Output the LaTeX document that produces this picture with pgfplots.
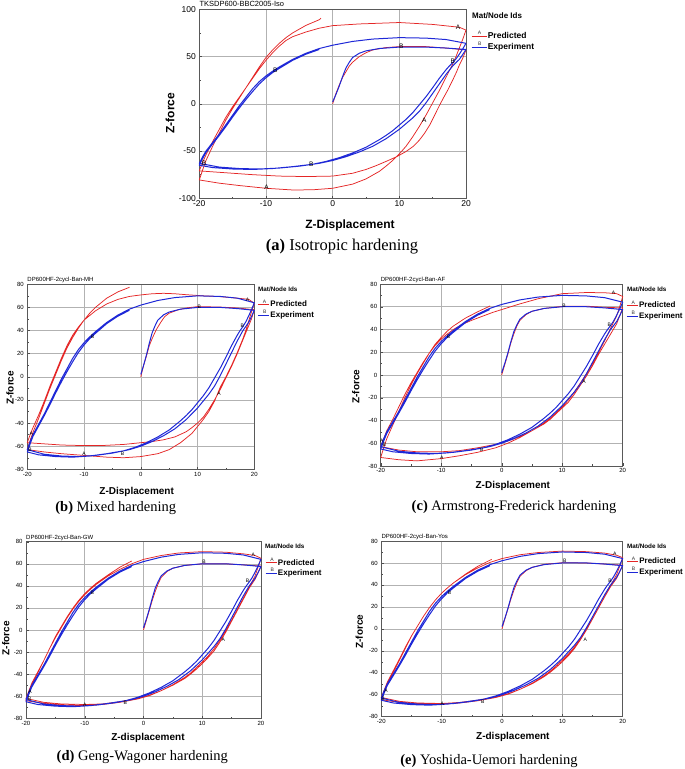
\documentclass[border=0pt]{standalone}
\usepackage{pgfplots}
\pgfplotsset{compat=1.18}
\usepackage{pgfplotstable}
\usepackage{fontspec}
\setmainfont{Liberation Serif}
\setsansfont{Liberation Sans}
\definecolor{predred}{RGB}{228,38,38}
\definecolor{expblue}{RGB}{30,40,215}

% Experiment (same test in all panels)
\pgfplotstableread[row sep=\\]{
x y\\
0 2\\ 0.5 10\\ 1 19\\ 1.5 29\\ 2 38\\ 2.5 44\\ 3 49\\ 4 53.5\\ 5 56\\ 7 58.5\\ 10 60\\ 14 60\\ 17 59\\ 20 57.5\\
19.5 52\\ 19 47\\ 18 40\\ 17 31\\ 16 21\\ 15 11\\ 14 1\\ 13 -8\\ 12 -15\\ 11 -21\\ 10 -27\\ 9 -32\\ 8 -37\\ 7 -41\\ 6 -45\\ 4 -51\\ 2 -56\\ 0 -60\\ -2 -63\\ -5 -66\\ -8 -68\\ -11 -69\\ -14 -68.5\\ -17 -67\\ -20 -63\\
-19.5 -56\\ -19 -50\\ -18 -41\\ -17 -32\\ -16 -22\\ -15 -12\\ -14 -2\\ -13 7\\ -12 16\\ -11 23.5\\ -10 29.5\\ -9 34.5\\ -8 39\\ -6 47\\ -4 53.5\\ -2 58.5\\ 0 62\\ 3 66\\ 6 68.5\\ 10 70\\ 14 69.5\\ 17 68\\ 20 64\\
19.5 58\\ 19 52.5\\ 18.5 47.5\\ 18 43.5\\ 17.5 40\\ 17 36\\ 16 27\\ 15 17\\ 14 7.5\\ 13 -1\\ 12 -9.5\\ 11 -16.5\\ 10 -22.5\\ 9 -28.5\\ 8 -33.5\\ 7 -38\\ 6 -42\\ 5 -46\\ 3 -52\\ 1 -57\\ -1 -61\\ -3 -64\\ -6 -66.5\\ -9 -68.5\\ -12 -69.5\\ -15 -69\\ -18 -67.5\\ -20 -65\\
-19.5 -58\\ -19 -51.5\\ -18 -42.5\\ -17 -33.5\\ -16 -24\\ -15 -14\\ -14 -4.5\\ -13 4.5\\ -12 13\\ -11 21\\ -10 27.5\\ -9 33\\ -8 37.5\\ -6 46\\ -4 52.5\\ -2 57.5\\
}\expdata

% (a) Isotropic
\pgfplotstableread[row sep=\\]{
x y\\
0 0\\ 0.5 11\\ 1 20\\ 1.5 28\\ 2 34\\ 2.5 40\\ 3 44\\ 4 50\\ 5 54\\ 6 57\\ 8 59.5\\ 10 60.5\\ 14 60.5\\ 17 59\\ 20 57\\
19.5 48\\ 19 41\\ 18.6 34\\ 18 25\\ 17.3 15\\ 16.6 6\\ 16 -2\\ 15.3 -12\\ 14.6 -22\\ 13.8 -31\\ 13 -38.5\\ 12.1 -45\\ 11 -50.5\\ 9.6 -56\\ 8 -61\\ 6.5 -65.5\\ 5 -69.5\\ 3 -73.5\\ 0 -76.5\\ -4 -77\\ -8 -76.5\\ -12 -75\\ -16 -73\\ -20 -71\\
-19.5 -62\\ -19 -54\\ -18 -40\\ -17 -27\\ -16 -14\\ -15 -3\\ -14 7\\ -13 17\\ -12 27\\ -11 37\\ -10 46\\ -9 54\\ -8 61\\ -7 67\\ -6 71\\ -4 76\\ -2 80\\ 0 82.7\\ 4 84.5\\ 10 86\\ 15 84\\ 19 81\\ 20 78\\
19.5 68\\ 19 59\\ 18.5 50\\ 18 42\\ 17 28\\ 16 14\\ 15 1\\ 14 -12\\ 13 -24\\ 12 -35\\ 11 -45\\ 10 -53\\ 9 -60\\ 8 -66\\ 7 -71.5\\ 5 -79.5\\ 3 -85\\ 0 -89.4\\ -3 -91\\ -6 -91.2\\ -10 -89.4\\ -14 -86.5\\ -17 -84\\ -20 -80.6\\
-19.5 -70\\ -19 -60\\ -18 -45\\ -17 -31\\ -16 -17\\ -15 -5\\ -14 6\\ -13 17\\ -12 28\\ -11 39\\ -10 49\\ -9 57\\ -8 64\\ -7 70\\ -6 75\\ -4 83\\ -2 89\\ -1.75 90.5\\
}\preda

% (b) Mixed
\pgfplotstableread[row sep=\\]{
x y\\
0 0\\ 0.5 10\\ 1 18\\ 1.5 27\\ 2 33\\ 2.7 40.5\\ 3.5 47\\ 4.2 52\\ 5 55\\ 6.5 57.8\\ 8 59.5\\ 10 60.7\\ 14 60.3\\ 17 59.5\\ 20 58\\
19.5 50\\ 19 44\\ 18.5 38\\ 18 32\\ 17 20\\ 16 9\\ 15 -1\\ 14 -11\\ 13 -20\\ 12 -28\\ 11 -35\\ 10 -40\\ 9 -44\\ 8 -47.5\\ 6 -52\\ 4 -54.5\\ 2 -56\\ 0 -57\\ -3 -58.5\\ -7 -59.5\\ -10 -59.5\\ -14 -59\\ -17 -58\\ -20 -57\\
-19.5 -50\\ -19 -44\\ -18 -33\\ -17 -21\\ -16 -8\\ -15 4\\ -14 16\\ -13 27\\ -12 36\\ -11 43\\ -10 49\\ -9 53\\ -8 57\\ -6 63\\ -4 67\\ -2 69.5\\ 0 70.8\\ 2 71.8\\ 4 72.2\\ 6 71.8\\ 8 71\\ 11 70\\ 14 69.3\\ 17 68\\ 19 67\\ 20 63.6\\
19.5 56\\ 19 48\\ 18.5 40\\ 18 33\\ 17 21\\ 16 10\\ 15 0\\ 14 -9\\ 13.5 -15\\ 13 -21\\ 12 -30\\ 11 -37\\ 10 -43\\ 9 -49\\ 8 -53\\ 7 -57\\ 5 -63\\ 3 -66.5\\ 0 -69\\ -3 -70\\ -6 -69.5\\ -10 -68\\ -14 -66.5\\ -17 -65\\ -20 -63\\
-19.5 -55\\ -19 -48\\ -18 -36\\ -17 -23\\ -16 -10\\ -15 2\\ -14 14\\ -13 25\\ -12 34\\ -11 42\\ -10 49\\ -9 55\\ -8 60\\ -6 68\\ -4 73.5\\ -2 77.4\\
}\predb

% (c) Armstrong-Frederick
\pgfplotstableread[row sep=\\]{
x y\\
0 0\\ 0.5 9\\ 1 18\\ 1.5 28\\ 2 36\\ 2.5 43\\ 3 48\\ 4 53\\ 5 56\\ 7 58.5\\ 10 60.3\\ 14 60.5\\ 17 59.5\\ 20 59\\
19.5 52\\ 19 45\\ 18 36\\ 17 27\\ 16 18\\ 15 8\\ 14 -1\\ 13 -9\\ 12 -17\\ 11 -24\\ 10 -29\\ 9 -34\\ 8 -39\\ 7 -43\\ 5 -49\\ 3 -54\\ 1 -58\\ -1 -61\\ -4 -64\\ -7 -66.5\\ -10 -67.5\\ -14 -67.5\\ -17 -66\\ -20 -63\\
-19.5 -56\\ -19 -49\\ -18 -39\\ -17 -28\\ -16 -17\\ -15 -7\\ -14 2\\ -13 11\\ -12 19\\ -11 26\\ -10 31.5\\ -9 36\\ -8 40\\ -6.7 44\\ -5 48\\ -3 52\\ -1.5 55\\ 0 57.5\\ 3 62.5\\ 6 67\\ 10 71.5\\ 14 72.5\\ 17 72.3\\ 19 71.5\\ 20 69\\
19.5 60\\ 19 52\\ 18 41\\ 17 30\\ 16 20\\ 15 10\\ 14 1\\ 13 -7\\ 12 -15\\ 11 -22\\ 10 -28\\ 9 -33\\ 8 -38\\ 7 -42\\ 5 -49\\ 3 -55\\ 1 -60\\ -1 -64\\ -4 -68\\ -7 -71\\ -10 -73.5\\ -14 -75.5\\ -17 -74.5\\ -20 -72.5\\
-19.5 -64\\ -19 -56\\ -18 -44\\ -17 -32\\ -16 -20\\ -15 -9\\ -14 1\\ -13 10\\ -12 19\\ -11 27\\ -10 33\\ -9 38.5\\ -8 43\\ -6 50\\ -4 55.5\\ -1.9 60.7\\
}\predc

% (d) Geng-Wagoner
\pgfplotstableread[row sep=\\]{
x y\\
0 0\\ 0.5 9\\ 1 18\\ 1.5 27\\ 2 35\\ 2.5 42\\ 3 47.5\\ 4 53\\ 5 56\\ 7 58.5\\ 10 60\\ 14 60\\ 17 59\\ 20 58\\
19.5 52\\ 19 46\\ 18 38\\ 17 28\\ 16 18\\ 15 8\\ 14 -2\\ 13 -11\\ 12 -19\\ 11 -25\\ 10 -30.5\\ 9 -35.5\\ 8 -40\\ 7 -44\\ 5 -50\\ 3 -55\\ 1 -59\\ -1 -62\\ -4 -65\\ -7 -67\\ -10 -67.5\\ -14 -67\\ -17 -65.5\\ -20 -62\\
-19.5 -55\\ -19 -48\\ -18 -38\\ -17 -28\\ -16 -17\\ -15 -7\\ -14 2\\ -13 11\\ -12 19\\ -11 26\\ -10 32\\ -9 37\\ -8 41.5\\ -6 49\\ -4 55\\ -2 60\\ 0 64\\ 3 67.5\\ 6 69.8\\ 10 71\\ 14 70.5\\ 17 69\\ 19 67.5\\ 20 65\\
19.5 57\\ 19 49\\ 18 39\\ 17 29\\ 16 19\\ 15 9\\ 14 0\\ 13 -9\\ 12 -17\\ 11 -23.5\\ 10 -29\\ 9 -34\\ 8 -39\\ 7 -43\\ 5 -49.5\\ 3 -55\\ 1 -59.5\\ -1 -62.5\\ -4 -65.5\\ -7 -67.5\\ -10 -68.5\\ -14 -68\\ -17 -66.5\\ -20 -64\\
-19.5 -57\\ -19 -50\\ -18 -39\\ -17 -28\\ -16 -17\\ -15 -6\\ -14 3\\ -13 12\\ -12 20\\ -11 27\\ -10 33\\ -9 38\\ -8 42.5\\ -6 50\\ -4 57\\ -2 62.5\\
}\predd

% (e) Yoshida-Uemori
\pgfplotstableread[row sep=\\]{
x y\\
0 0\\ 0.5 9.5\\ 1 18.5\\ 1.5 27.5\\ 2 35.5\\ 2.5 42.5\\ 3 48\\ 4 53\\ 5 56\\ 7 58.8\\ 10 60.2\\ 14 60\\ 17 59\\ 20 58\\
19.5 52\\ 19 46\\ 18 38.5\\ 17 29\\ 16 19\\ 15 9\\ 14 -1\\ 13 -10\\ 12 -18\\ 11 -24.5\\ 10 -30\\ 9 -35\\ 8 -39.5\\ 7 -43.5\\ 5 -50\\ 3 -55\\ 1 -59\\ -1 -62\\ -4 -65\\ -7 -67\\ -10 -68\\ -14 -67.5\\ -17 -66\\ -20 -62.5\\
-19.5 -55.5\\ -19 -48.5\\ -18 -38\\ -17 -27.5\\ -16 -16.5\\ -15 -6.5\\ -14 2.5\\ -13 11.5\\ -12 19.5\\ -11 26.5\\ -10 32.5\\ -9 37.5\\ -8 42\\ -6 49.5\\ -4 55.5\\ -2 60.5\\ 0 64\\ 3 67.5\\ 6 69.5\\ 10 70.8\\ 14 70.3\\ 17 69\\ 19 67\\ 20 64.8\\
19.5 57\\ 19 49.5\\ 18 39.5\\ 17 29.5\\ 16 19.5\\ 15 9.5\\ 14 0.5\\ 13 -8.5\\ 12 -16.5\\ 11 -23\\ 10 -28.5\\ 9 -33.5\\ 8 -38.5\\ 7 -42.5\\ 5 -49.5\\ 3 -55\\ 1 -59.5\\ -1 -62.5\\ -4 -65.5\\ -7 -67.5\\ -10 -68.5\\ -14 -68.5\\ -17 -67\\ -20 -64.5\\
-19.5 -57.5\\ -19 -50.5\\ -18 -39.5\\ -17 -28.5\\ -16 -17.5\\ -15 -6.5\\ -14 2.5\\ -13 11.5\\ -12 19.5\\ -11 26.5\\ -10 32.5\\ -9 37.5\\ -8 42\\ -6 50\\ -4 57\\ -2 62.5\\ -1.7 63.3\\
}\prede

\def\legw{11pt}
\pgfplotsset{
 chart/.style={
  scale only axis, anchor=south west, clip=false,
  xmin=-20, xmax=20, xtick={-20,-10,0,10,20}, minor x tick num=1,
  ymin=-80, ymax=80, ytick={-80,-60,...,80}, minor y tick num=1,
  grid=major, major grid style={draw=gray!60, line width=0.5pt},
  axis line style={draw=gray!70!black, line width=0.5pt},
  tick style={draw=gray!60!black, line width=0.4pt},
  major tick length=2.5pt, minor tick length=1.5pt,
  tick align=inside, tick pos=left,
  /pgf/number format/assume math mode=true,
  ticklabel style={font=\sffamily\fontsize{6}{7}\selectfont, text=black},
  xticklabel style={yshift=1pt},
  title style={at={(0,1)}, anchor=base west, yshift=-3.5pt, inner sep=0pt, font=\sffamily\fontsize{6}{7}\selectfont},
  xlabel={Z-Displacement}, ylabel={Z-force},
  label style={font=\sffamily\bfseries\fontsize{10}{11}\selectfont, anchor=center},
  legend style={draw=none, fill=none, anchor=north west, inner sep=0pt, row sep=1pt,
    nodes={inner sep=0.8pt},
    font=\sffamily\bfseries\fontsize{8}{9}\selectfont},
  legend cell align=left,
 },
 pred/.style={draw=predred, line width=0.75pt, line join=round, mark=none,
   legend image code/.code={\draw[predred,line width=0.75pt] (0pt,0pt) -- (\legw,0pt);
     \node[text=black!80, inner sep=0pt, font=\sffamily\fontsize{5}{5}\selectfont] at (0.4*\legw,2.6pt) {A};}},
 exp/.style={draw=expblue, line width=1pt, line join=round, mark=none,
   legend image code/.code={\draw[expblue,line width=1pt] (0pt,0pt) -- (\legw,0pt);
     \node[text=black!80, inner sep=0pt, font=\sffamily\fontsize{5}{5}\selectfont] at (0.4*\legw,2.6pt) {B};}},
 lettA/.style={only marks, mark=text, text mark={\sffamily\fontsize{#1}{#1}\selectfont A}, forget plot, color=black!80},
 lettA/.default=5,
 lettB/.style={only marks, mark=text, text mark={\sffamily\fontsize{#1}{#1}\selectfont B}, forget plot, color=black!80},
 lettB/.default=5,
}
\newcommand{\matnode}[3]{\node[anchor=west, inner sep=0pt, font=\sffamily\bfseries\fontsize{#3}{#3}\selectfont] at ([xshift=#1,yshift=#2]rel axis cs:1,1) {Mat/Node Ids};}

\begin{document}
\begin{tikzpicture}
\path[use as bounding box] (0,0) rectangle (685pt,769pt);

% ---------- (a)
\def\legw{15pt}
\begin{axis}[chart, at={(199.3pt,570.7pt)}, width=266.7pt, height=189pt,
  ymin=-100, ymax=100, ytick={-100,-50,0,50,100},
  ticklabel style={font=\sffamily\fontsize{8.5}{9}\selectfont},
  title={TKSDP600-BBC2005-Iso},
  title style={font=\sffamily\fontsize{7.5}{8}\selectfont},
  label style={font=\sffamily\bfseries\fontsize{12}{13}\selectfont},
  xlabel style={at={(axis description cs:0.565,-0.141)}},
  ylabel style={at={(axis description cs:-0.11,0.45)}},
  legend style={at={(1.018,0.885)}, font=\sffamily\bfseries\fontsize{8.5}{9.5}\selectfont, row sep=1.5pt}]
\addplot[pred] table {\preda};
\addplot[exp] table {\expdata};
\addplot[lettA=6.5] coordinates {(18.8,81.5) (13.75,-17) (-9.9,-88.5)};
\addplot[lettB=6.5] coordinates {(10.3,61) (-8.6,35.8) (18,44.6) (-3.2,-64) (-19.3,-63)};
\legend{Predicted, Experiment}
\matnode{6pt}{-6pt}{8}
\end{axis}
\def\legw{11pt}
\node[font=\fontsize{16.5}{18}\selectfont] at (342pt,522.3pt) {\textbf{(a)} Isotropic hardening};

% ---------- (b)
\begin{axis}[chart, at={(27.3pt,299.7pt)}, width=227pt, height=185pt,
  title={DP600HF-2cycl-Ban-MH},
  xlabel style={at={(axis description cs:0.482,-0.121)}},
  ylabel style={at={(axis description cs:-0.076,0.44)}},
  legend style={at={(1.014,0.918)}}]
\addplot[pred] table {\predb};
\addplot[exp] table {\expdata};
\addplot[lettA] coordinates {(18.8,67) (13.8,-14.3) (-10,-66.2) (-19.3,-49)};
\addplot[lettB] coordinates {(10.3,60.5) (-8.5,34.7) (17.9,44) (-3.2,-66.5) (-19.5,-63)};
\legend{Predicted, Experiment}
\matnode{3.7pt}{-4.7pt}{6.3}
\end{axis}
\node[font=\fontsize{14.5}{16}\selectfont] at (115.8pt,261pt) {\textbf{(b)} Mixed hardening};

% ---------- (c)
\begin{axis}[chart, at={(380.7pt,303pt)}, width=242pt, height=182pt,
  title={DP600HF-2cycl-Ban-AF},
  xlabel style={at={(axis description cs:0.546,-0.11)}},
  ylabel style={at={(axis description cs:-0.103,0.436)}},
  legend style={at={(1.014,0.909)}}]
\addplot[pred] table {\predc};
\addplot[exp] table {\expdata};
\addplot[lettA] coordinates {(18.5,72.7) (13.6,-5.8) (-9.9,-73.2) (-19.8,-58)};
\addplot[lettB] coordinates {(10.3,60.5) (-8.8,33.7) (17.8,44) (-3.3,-66) (-19.4,-61)};
\legend{Predicted, Experiment}
\matnode{4.3pt}{-5pt}{6.3}
\end{axis}
\node[font=\fontsize{14.5}{16}\selectfont] at (514pt,262.3pt) {\textbf{(c)} Armstrong-Frederick hardening};

% ---------- (d)
\begin{axis}[chart, at={(26pt,50.7pt)}, width=235pt, height=176.6pt,
  title={DP600HF-2cycl-Ban-GW}, xlabel={Z-displacement},
  xlabel style={at={(axis description cs:0.519,-0.11)}},
  ylabel style={at={(axis description cs:-0.086,0.453)}},
  legend style={at={(1.017,0.91)}}]
\addplot[pred] table {\predd};
\addplot[exp] table {\expdata};
\addplot[lettA] coordinates {(18.7,67.9) (13.6,-9.1) (-10,-67.9) (-19.3,-55.9)};
\addplot[lettB] coordinates {(10.3,61.9) (-8.7,34.1) (17.7,44.4) (-3.1,-65.8) (-19.4,-62.5)};
\legend{Predicted, Experiment}
\matnode{4pt}{-4.3pt}{6.3}
\end{axis}
\node[font=\fontsize{14.5}{16}\selectfont] at (142.3pt,12.3pt) {\textbf{(d)} Geng-Wagoner hardening};

% ---------- (e)
\begin{axis}[chart, at={(381.3pt,52.3pt)}, width=241.4pt, height=175.7pt,
  title={DP600HF-2cycl-Ban-Yos}, xlabel={Z-displacement},
  xlabel style={at={(axis description cs:0.545,-0.114)}},
  ylabel style={at={(axis description cs:-0.091,0.484)}},
  legend style={at={(1.015,0.912)}}]
\addplot[pred] table {\prede};
\addplot[exp] table {\expdata};
\addplot[lettA] coordinates {(18.7,67.9) (13.8,-10.2) (-9.9,-68.5) (-19.2,-56.6)};
\addplot[lettB] coordinates {(10.4,61.8) (-8.7,33.2) (17.9,43.6) (-3.2,-66.3) (-19.7,-63.3)};
\legend{Predicted, Experiment}
\matnode{4.3pt}{-5pt}{6.3}
\end{axis}
\node[font=\fontsize{14.5}{16}\selectfont] at (489pt,8.3pt) {\textbf{(e)} Yoshida-Uemori hardening};
\end{tikzpicture}
\end{document}
